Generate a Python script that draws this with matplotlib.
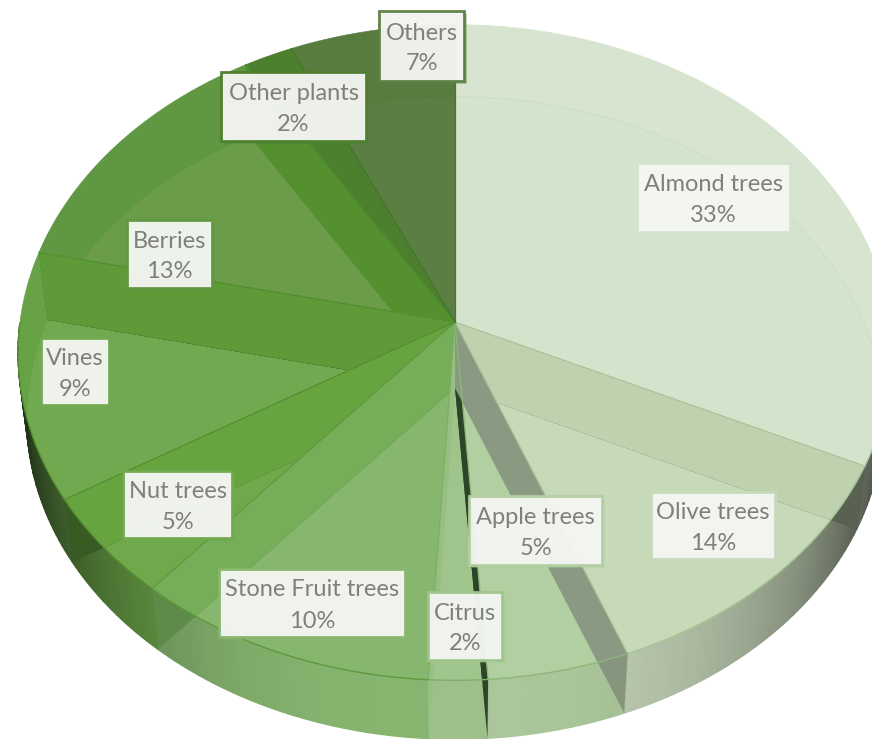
import numpy as np
import matplotlib
matplotlib.use('Agg')
import matplotlib.pyplot as plt
from matplotlib.patches import Polygon, Rectangle

plt.rcParams['font.family'] = ['Lato', 'DejaVu Sans']

categories = ['Almond trees', 'Olive trees', 'Apple trees', 'Citrus', 'Stone Fruit trees',
              'Nut trees', 'Vines', 'Berries', 'Other plants', 'Others']
percent = [33, 14, 5, 2, 10, 5, 9, 13, 2, 7]
# shares as the slices are really drawn in the picture (3D view, not the same as the labels)
drawn_share = [32.0, 12.1, 4.8, 2.0, 10.3, 5.1, 12.2, 12.8, 2.0, 6.7]

# colours per slice
top_inner = ['#D4E3CC', '#C6D9B9', '#B2CFA1', '#A0C58C', '#87B66E', '#6FA94C', '#71A950', '#6A9C4A', '#4C7F2E', '#5B7F42']
top_outer = ['#D7E5D0', '#C6D9B9', '#B2CFA1', '#A0C58C', '#7BAF5E', '#6FA94C', '#68A246', '#5F9742', '#4C7F2E', '#587C3E']
side_col = ['#D0DEC8', '#BCCBB0', '#ABC69A', '#9DC08B', '#87B56F', '#6EA84A', '#70A84F', '#5F9742', '#4C7F2E', '#5B7F42']
wall_col = ['#BFD2B0', '#8A9A82', '#2C4528', '#98BF82', '#76AD59', '#66A43F', '#5E9A38', '#55902F', '#4C7F2E', '#5B7F42']
edge_col = ['#A9C69A', '#A3C391', '#8DB67A', '#7FAE68', '#5E9A40', '#54902F', '#54902F', '#4F8A2E', '#44752A', '#4F7238']
box_edge = ['#D5E3CD', '#C6D9B9', '#B2CFA1', '#A0C58C', '#87B66E', '#6FA94C', '#71A950', '#5F9742', '#4C7F2E', '#5B7F42']

# label boxes in pixels: left, top, right, bottom
label_box = [(637, 163, 790, 232), (651, 492, 775, 559), (469, 496, 602, 565), (428, 592, 502, 660),
             (219, 569, 405, 637), (123, 471, 232, 538), (41, 338, 109, 405), (127, 220, 212, 288),
             (221, 72, 366, 141), (379, 11, 464, 81)]

# view of the pie
cx, cy, cy_low = 455, 322, 388
rx, ry, persp, shrink = 435, 325, 0.093, 0.98
wall_order = [2, 3, 0, 1, 4, 5, 6, 7, 8, 9]


def top_xy(t):
    d = 1 + persp * np.cos(t)
    return cx + rx * np.sin(t) / d, cy - ry * np.cos(t) / d


def low_xy(t):
    x, y = top_xy(t)
    return cx + shrink * (x - cx), cy_low + shrink * (y - cy)


def shade_of(t):
    return 1 - 0.72 * abs(np.sin(t)) ** 3


edges = np.radians(np.cumsum([0] + drawn_share) / sum(drawn_share) * 360)

fig = plt.figure(figsize=(8.72, 7.39), dpi=100)
ax = fig.add_axes([0, 0, 1, 1])
ax.set_xlim(0, 872)
ax.set_ylim(739, 0)
ax.axis('off')

# outer side of the cylinder, only the front can be seen
for i in range(len(categories)):
    ts = np.linspace(edges[i], edges[i + 1], int(np.degrees(edges[i + 1] - edges[i])) + 2)
    base = np.array(matplotlib.colors.to_rgb(side_col[i]))
    for a, b in zip(ts[:-1], ts[1:]):
        if np.cos((a + b) / 2) > 0:
            continue
        xa, ya = top_xy(np.array([a, b]))
        xb, yb = low_xy(np.array([b, a]))
        c = base * shade_of((a + b) / 2)
        ax.add_patch(Polygon(list(zip(np.r_[xa, xb], np.r_[ya, yb])), fc=c, ec=c, lw=1.0, zorder=1))

# top faces, lighter where the bottom disc shows through
tops = []
for i in range(len(categories)):
    ts = np.linspace(edges[i], edges[i + 1], 80)
    x, y = top_xy(ts)
    top = Polygon(list(zip(np.r_[cx, x], np.r_[cy, y])), fc=top_outer[i], ec=top_outer[i], lw=0.4, zorder=2)
    ax.add_patch(top)
    tops.append(top)
    lx, ly = low_xy(ts)
    inner = Polygon(list(zip(np.r_[cx, lx], np.r_[cy_low, ly])), fc=top_inner[i], ec='none', zorder=3)
    ax.add_patch(inner)
    inner.set_clip_path(top)
    ring, = ax.plot(lx, ly, color=edge_col[i], lw=0.7, alpha=0.2, zorder=4)
    ring.set_clip_path(top)

disc_x, disc_y = top_xy(np.linspace(0, 2 * np.pi, 300))
disc = Polygon(list(zip(disc_x, disc_y)), fc='none', ec='none')
ax.add_patch(disc)

# radial walls seen through the slices: darker on the side of the cylinder,
# plain wall colour over the top face, on the left half only inside their own slice
for i in wall_order:
    t = edges[i + 1]
    tx, ty = top_xy(t)
    lx, ly = low_xy(t)
    corners = [(cx, cy), (tx, ty), (lx, ly), (cx, cy_low)]
    dark = np.array(matplotlib.colors.to_rgb(wall_col[i])) * shade_of(t)
    wall_side = Polygon(corners, fc=dark, ec='none', zorder=5)
    wall_top = Polygon(corners, fc=wall_col[i], ec='none', zorder=5.5)
    ax.add_patch(wall_side)
    ax.add_patch(wall_top)
    if i >= 3:
        ts = np.linspace(edges[i], edges[i + 1], 80)
        sx, sy = top_xy(edges[i])
        bx, by = low_xy(ts)
        area = Polygon([(cx, cy), (sx, sy)] + list(zip(bx, by)) + [(tx, ty)], fc='none', ec='none')
        ax.add_patch(area)
        wall_side.set_clip_path(area)
        wall_top.set_clip_path(tops[i])
    else:
        wall_top.set_clip_path(disc)

# slice borders and the front rim
for i in range(len(categories)):
    ts = np.linspace(edges[i], edges[i + 1], 80)
    ts = ts[np.cos(ts) < 0]
    if len(ts) > 1:
        x, y = top_xy(ts)
        ax.plot(x, y, color=edge_col[i], lw=1.0, zorder=6)
    ex, ey = top_xy(edges[i + 1])
    ax.plot([cx, ex], [cy, ey], color=edge_col[i], lw=0.9, zorder=6)

# labels
for i, name in enumerate(categories):
    l, t, r, b = label_box[i]
    ax.add_patch(Rectangle((l + 3, t + 3), r - l, b - t, fc=box_edge[i], ec='none', alpha=0.35, zorder=7))
    ax.add_patch(Rectangle((l, t), r - l, b - t, fc='#F4F6F2', ec=box_edge[i], lw=2, alpha=0.96, zorder=8))
    ax.text((l + r) / 2, (t + b) / 2 - 13, name, color='#7F7F7F', fontsize=17, ha='center', va='center', zorder=9)
    ax.text((l + r) / 2, (t + b) / 2 + 18, '%d%%' % percent[i], color='#7F7F7F', fontsize=17, ha='center', va='center', zorder=9)

fig.savefig('out.png', dpi=100)
